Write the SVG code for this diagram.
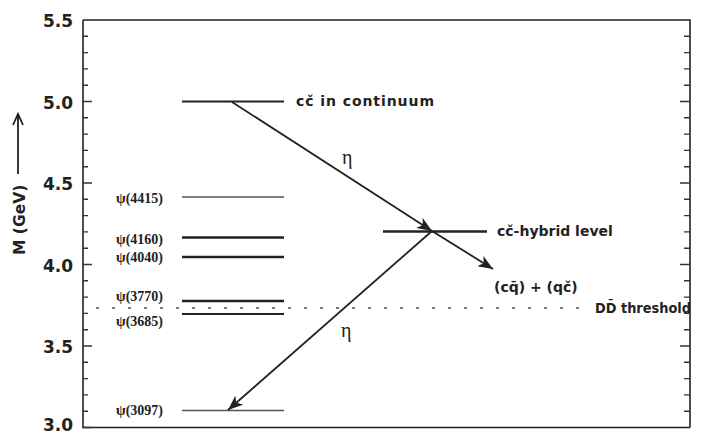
<svg xmlns="http://www.w3.org/2000/svg" width="704" height="434" viewBox="0 0 704 434">
<style>
.ax{stroke:#222;stroke-width:1.6;fill:none}
.tk{stroke:#333;stroke-width:1.4;fill:none}
.num{font-family:"DejaVu Sans",sans-serif;font-weight:bold;font-size:17px;fill:#222;text-anchor:end}
.lab{font-family:"DejaVu Sans",sans-serif;font-weight:bold;font-size:14px;fill:#222}
.psi{font-family:"Liberation Serif",serif;font-weight:bold;font-size:14px;fill:#222;text-anchor:end}
.eta{font-family:"Liberation Serif",serif;font-size:20px;fill:#222}
.lvl{stroke:#222;stroke-width:2.4}
.thin{stroke:#555;stroke-width:1.4}
.con{stroke:#222;stroke-width:1.8;fill:none}
</style>
<defs>
<marker id="ah" markerUnits="userSpaceOnUse" markerWidth="16" markerHeight="12" refX="15" refY="6" orient="auto">
<path d="M0,0 L15,6 L0,12 L4,6 z" fill="#222"/>
</marker>
</defs>
<rect width="704" height="434" fill="#fff"/>
<g id="axes">
<path class="ax" d="M83,20 H690 V427.5 M83,20 V427.5 H690"/>
<path class="tk" d="M83,427.5h9M83,411.2h5M83,394.9h5M83,378.6h5M83,362.3h5M83,346h9M83,329.7h5M83,313.4h5M83,297.1h5M83,280.8h5M83,264.5h9M83,248.2h5M83,231.9h5M83,215.6h5M83,199.3h5M83,183h9M83,166.7h5M83,150.4h5M83,134.1h5M83,117.8h5M83,101.5h9M83,85.2h5M83,68.9h5M83,52.6h5M83,36.3h5"/>
<path class="tk" d="M690,411.2h-6M690,394.9h-6M690,378.6h-6M690,362.3h-6M690,346h-10M690,329.7h-6M690,313.4h-6M690,297.1h-6M690,280.8h-6M690,264.5h-10M690,248.2h-6M690,231.9h-6M690,215.6h-6M690,199.3h-6M690,183h-10M690,166.7h-6M690,150.4h-6M690,134.1h-6M690,117.8h-6M690,101.5h-10M690,85.2h-6M690,68.9h-6M690,52.6h-6M690,36.3h-6"/>
<text class="num" x="73" y="27">5.5</text>
<text class="num" x="73" y="108.5">5.0</text>
<text class="num" x="73" y="190">4.5</text>
<text class="num" x="73" y="271.5">4.0</text>
<text class="num" x="73" y="353">3.5</text>
<text class="num" x="73" y="431">3.0</text>
<text class="lab" transform="translate(25,255) rotate(-90)" style="font-size:15.5px">M (GeV)</text>
<path d="M18,174 V114 M13,125 L18,114 L23,125" stroke="#222" stroke-width="1.8" fill="none"/>
</g>
<g id="threshold">
<line x1="96" y1="308" x2="590" y2="308" stroke="#777" stroke-width="1.8" stroke-dasharray="3 13"/>
<text class="lab" x="595" y="313" textLength="96" lengthAdjust="spacingAndGlyphs">DD̄ threshold</text>
</g>
<g id="continuum">
<line class="lvl" x1="182" y1="101.5" x2="284" y2="101.5" style="stroke-width:2"/>
<text class="lab" x="296" y="106" textLength="138" lengthAdjust="spacing">cč in continuum</text>
</g>
<g id="psi4415">
<line class="thin" x1="182" y1="197" x2="284" y2="197"/>
<text class="psi" x="163" y="203">ψ(4415)</text>
</g>
<g id="psi4160">
<line class="lvl" x1="182" y1="237.5" x2="284" y2="237.5"/>
<text class="psi" x="163" y="244">ψ(4160)</text>
</g>
<g id="psi4040">
<line class="lvl" x1="182" y1="257" x2="284" y2="257"/>
<text class="psi" x="163" y="262">ψ(4040)</text>
</g>
<g id="psi3770">
<line class="lvl" x1="182" y1="301" x2="284" y2="301"/>
<text class="psi" x="163" y="301">ψ(3770)</text>
</g>
<g id="psi3685">
<line class="lvl" x1="182" y1="314" x2="284" y2="314" style="stroke-width:2"/>
<text class="psi" x="163" y="326">ψ(3685)</text>
</g>
<g id="psi3097">
<line class="thin" x1="182" y1="410.5" x2="284" y2="410.5" style="stroke-width:1.6"/>
<text class="psi" x="163" y="415">ψ(3097)</text>
</g>
<g id="hybrid">
<line class="lvl" x1="383" y1="231.5" x2="487" y2="231.5"/>
<text class="lab" x="497" y="236">cč-hybrid level</text>
</g>
<g id="products">
<text class="lab" x="494" y="292">(cq̄) + (qč)</text>
</g>
<g id="connectors">
<line class="con" x1="232" y1="102" x2="432" y2="231" marker-end="url(#ah)"/>
<line class="con" x1="432" y1="231" x2="493" y2="269" marker-end="url(#ah)"/>
<line class="con" x1="432" y1="231" x2="228" y2="410" marker-end="url(#ah)"/>
<text class="eta" x="342" y="164">η</text>
<text class="eta" x="341" y="337">η</text>
</g>
</svg>
